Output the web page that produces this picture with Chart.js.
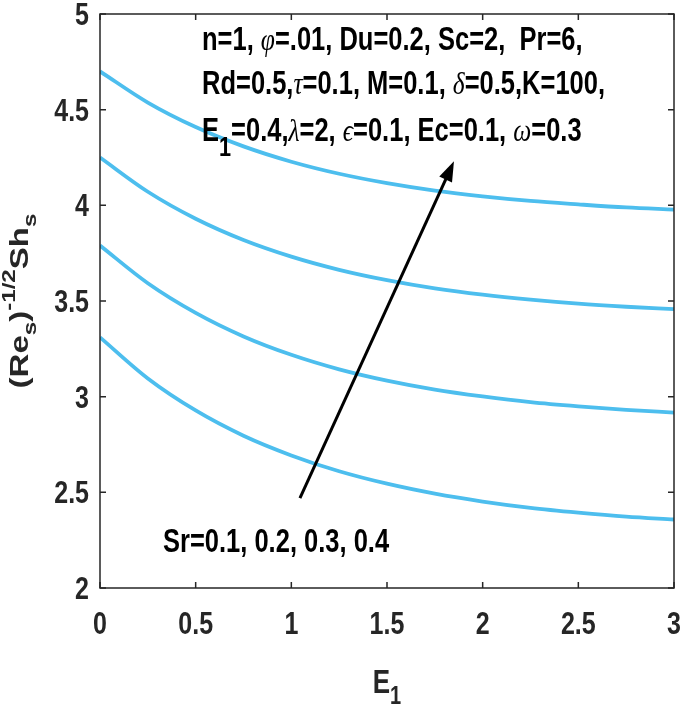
<!DOCTYPE html>
<html><head><meta charset="utf-8">
<script src="https://cdn.jsdelivr.net/npm/chart.js@4.4.1/dist/chart.umd.min.js"></script>
<style>html,body{margin:0;padding:0;background:#fff}#wrap{width:685px;height:708px;position:relative}</style>
</head><body><div id="wrap"><canvas id="c" width="685" height="708"></canvas></div>
<script>
// ---- data ----
const xValues = [0, 0.25, 0.5, 0.75, 1, 1.25, 1.5, 1.75, 2, 2.25, 2.5, 2.75, 3];
const seriesNames = ['Sr=0.1', 'Sr=0.2', 'Sr=0.3', 'Sr=0.4'];
const sr01 = [3.310, 3.095, 2.928, 2.796, 2.693, 2.610, 2.545, 2.493, 2.452, 2.419, 2.394, 2.373, 2.358];
const sr02 = [3.790, 3.593, 3.438, 3.315, 3.219, 3.143, 3.084, 3.037, 3.001, 2.971, 2.949, 2.931, 2.917];
const sr03 = [4.250, 4.071, 3.930, 3.819, 3.732, 3.663, 3.609, 3.566, 3.533, 3.507, 3.486, 3.470, 3.457];
const sr04 = [4.700, 4.537, 4.409, 4.308, 4.228, 4.165, 4.116, 4.077, 4.047, 4.023, 4.005, 3.989, 3.978];
const xTicks = [0, 0.5, 1, 1.5, 2, 2.5, 3];
const yTicks = [2, 2.5, 3, 3.5, 4, 4.5, 5];
const xTickLabels = ['0', '0.5', '1', '1.5', '2', '2.5', '3'];
const yTickLabels = ['2', '2.5', '3', '3.5', '4', '4.5', '5'];
const arrowStart = [1.045, 2.47];
const arrowEnd = [1.85, 4.23];

const LINE_COLOR = '#4DBEEE';
const AXIS_COLOR = '#262626';
const TXT_FONT = "'Liberation Sans', Arial, sans-serif";
const GREEK_FONT = "'Liberation Serif', 'Times New Roman', serif";
const VSTRETCH = 1.27;

const allSeries = [sr01, sr02, sr03, sr04];
const datasets = allSeries.map((arr, i) => ({
  label: seriesNames[i],
  data: arr.map((v, j) => ({x: xValues[j], y: v})),
  borderColor: LINE_COLOR,
  borderWidth: 3.8,
  pointRadius: 0,
  fill: false,
  cubicInterpolationMode: 'monotone'
}));

function stretched(ctx, s, x, y, k) {
  ctx.save(); ctx.translate(x, y); ctx.scale(1, k); ctx.fillText(s, 0, 0); ctx.restore();
}

function rich(ctx, segs, x, y, size) {
  let cx = x;
  for (const s of segs) {
    const sz = s.sub ? size * 0.85 : size;
    ctx.font = s.g ? `italic ${sz}px ${GREEK_FONT}` : `bold ${sz}px ${TXT_FONT}`;
    const dy = s.sub ? 15 : 0;
    stretched(ctx, s.t, cx, y + dy, VSTRETCH);
    cx += ctx.measureText(s.t).width;
  }
  return cx - x;
}

const overlay = {
  id: 'overlay',
  afterDatasetsDraw(chart) {
    const ctx = chart.ctx;
    const a = chart.chartArea;
    const xs = chart.scales.x, ys = chart.scales.y;
    ctx.save();
    // box
    ctx.strokeStyle = AXIS_COLOR;
    ctx.lineWidth = 1.5;
    ctx.strokeRect(a.left, a.top, a.right - a.left, a.bottom - a.top);
    // inner ticks
    const TL = 6;
    ctx.beginPath();
    xTicks.forEach(v => {
      const px = xs.getPixelForValue(v);
      ctx.moveTo(px, a.bottom); ctx.lineTo(px, a.bottom - TL);
      ctx.moveTo(px, a.top); ctx.lineTo(px, a.top + TL);
    });
    yTicks.forEach(v => {
      const py = ys.getPixelForValue(v);
      ctx.moveTo(a.left, py); ctx.lineTo(a.left + TL, py);
      ctx.moveTo(a.right, py); ctx.lineTo(a.right - TL, py);
    });
    ctx.stroke();

    // tick labels
    ctx.fillStyle = AXIS_COLOR;
    ctx.font = `bold 25px ${TXT_FONT}`;
    ctx.textBaseline = 'alphabetic';
    ctx.textAlign = 'center';
    xTicks.forEach((v, i) => stretched(ctx, xTickLabels[i], xs.getPixelForValue(v), a.bottom + 46, 1.25));
    ctx.textAlign = 'right';
    yTicks.forEach((v, i) => stretched(ctx, yTickLabels[i], a.left - 11, ys.getPixelForValue(v) + 11, 1.25));

    // arrow
    const x1 = xs.getPixelForValue(arrowStart[0]), y1 = ys.getPixelForValue(arrowStart[1]);
    const x2 = xs.getPixelForValue(arrowEnd[0]), y2 = ys.getPixelForValue(arrowEnd[1]);
    const ang = Math.atan2(y2 - y1, x2 - x1);
    const HL = 20, HW = 7;
    ctx.strokeStyle = '#000'; ctx.fillStyle = '#000';
    ctx.lineWidth = 3;
    ctx.beginPath();
    ctx.moveTo(x1, y1);
    ctx.lineTo(x2 - HL * 0.8 * Math.cos(ang), y2 - HL * 0.8 * Math.sin(ang));
    ctx.stroke();
    ctx.beginPath();
    ctx.moveTo(x2, y2);
    ctx.lineTo(x2 - HL * Math.cos(ang) + HW * Math.sin(ang), y2 - HL * Math.sin(ang) - HW * Math.cos(ang));
    ctx.lineTo(x2 - HL * Math.cos(ang) - HW * Math.sin(ang), y2 - HL * Math.sin(ang) + HW * Math.cos(ang));
    ctx.closePath();
    ctx.fill();

    // annotation text
    ctx.fillStyle = '#000';
    ctx.textAlign = 'left';
    const S = 25.5;
    rich(ctx, [{t:'n=1, '},{t:'φ',g:1},{t:'=.01, Du=0.2, Sc=2,  Pr=6,'}], 202, 50, S);
    rich(ctx, [{t:'Rd=0.5,'},{t:'τ',g:1},{t:'=0.1, M=0.1, '},{t:'δ',g:1},{t:'=0.5,K=100,'}], 202, 94, S);
    rich(ctx, [{t:'E'},{t:'1',sub:1},{t:'=0.4,'},{t:'λ',g:1},{t:'=2, '},{t:'ϵ',g:1},{t:'=0.1, Ec=0.1, '},{t:'ω',g:1},{t:'=0.3'}], 202, 141, S);
    rich(ctx, [{t:'Sr=0.1, 0.2, 0.3, 0.4'}], 163, 552, S);

    // x title
    ctx.fillStyle = AXIS_COLOR;
    ctx.font = `bold 26px ${TXT_FONT}`;
    const wE = ctx.measureText('E').width;
    ctx.font = `bold 20px ${TXT_FONT}`;
    const w1 = ctx.measureText('1').width;
    const cx = (a.left + a.right) / 2 - (wE + w1) / 2;
    ctx.font = `bold 26px ${TXT_FONT}`;
    stretched(ctx, 'E', cx, 693, VSTRETCH);
    ctx.font = `bold 20px ${TXT_FONT}`;
    stretched(ctx, '1', cx + wE, 704, VSTRETCH);

    // y title (rotated)
    ctx.save();
    ctx.translate(28, (a.top + a.bottom) / 2);
    ctx.rotate(-Math.PI / 2);
    const parts = [{t:'(Re', s:26, dy:0},{t:'s', s:19, dy:8},{t:')', s:26, dy:0},{t:'-1/2', s:19, dy:-13},{t:'Sh', s:26, dy:0},{t:'s', s:19, dy:8}];
    let tot = 0;
    parts.forEach(p => { ctx.font = `bold ${p.s}px ${TXT_FONT}`; p.w = ctx.measureText(p.t).width * VSTRETCH; tot += p.w; });
    let px = -tot / 2;
    parts.forEach(p => {
      ctx.font = `bold ${p.s}px ${TXT_FONT}`;
      ctx.save(); ctx.translate(px, p.dy); ctx.scale(VSTRETCH, 1); ctx.fillText(p.t, 0, 0); ctx.restore();
      px += p.w;
    });
    ctx.restore();
    ctx.restore();
  }
};

new Chart(document.getElementById('c'), {
  type: 'line',
  data: { datasets },
  options: {
    responsive: false,
    animation: false,
    layout: { autoPadding: false, padding: { left: 0, right: 11, top: 14, bottom: 0 } },
    plugins: { legend: { display: false }, tooltip: { enabled: false } },
    scales: {
      x: {
        type: 'linear', min: 0, max: 3,
        afterBuildTicks: s => { s.ticks = xTicks.map(v => ({value: v})); },
        afterFit: s => { s.height = 120; },
        grid: { display: false }, border: { display: false },
        ticks: { display: false }
      },
      y: {
        type: 'linear', min: 2, max: 5,
        afterBuildTicks: s => { s.ticks = yTicks.map(v => ({value: v})); },
        afterFit: s => { s.width = 100; },
        grid: { display: false }, border: { display: false },
        ticks: { display: false }
      }
    }
  },
  plugins: [overlay]
});
</script>
</body></html>
